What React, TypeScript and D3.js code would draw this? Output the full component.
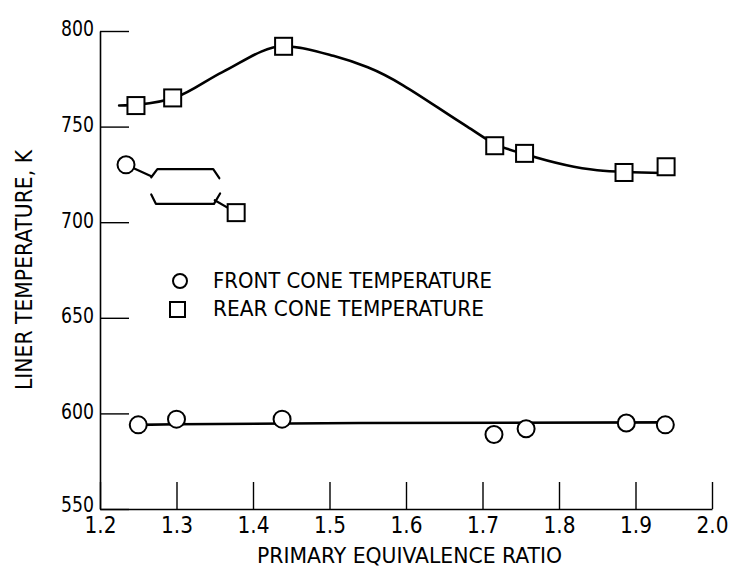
import React, { useEffect, useRef } from 'react';
import * as d3 from 'd3';

// measured points, primary equivalence ratio vs liner temperature (K)
const ratioFront = [1.25, 1.30, 1.438, 1.715, 1.757, 1.888, 1.939];
const tempFront = [594, 597, 597, 589, 592, 595, 594];
const ratioRear = [1.247, 1.295, 1.44, 1.716, 1.755, 1.885, 1.94];
const tempRear = [761, 765, 792, 740, 736, 726, 729];

// the two odd points tied together by the brace
const ratioOddFront = [1.234];
const tempOddFront = [730];
const ratioOddRear = [1.378];
const tempOddRear = [705];

// faired curves as drawn
const fitRearRatio = [1.225, 1.25, 1.30, 1.36, 1.44, 1.505, 1.55, 1.68, 1.716, 1.756, 1.85, 1.935];
const fitRearTemp = [761, 761.5, 765.5, 778.5, 792, 787, 781, 750, 741, 735.5, 727.2, 725.7];
const fitFrontRatio = [1.25, 1.30, 1.54, 1.94];
const fitFrontTemp = [594, 594.3, 595, 595.3];

// brace between the odd points
const braceUpperRatio = [1.267, 1.275, 1.348, 1.356];
const braceUpperTemp = [723.5, 727.8, 727.8, 723];
const braceLowerRatio = [1.267, 1.273, 1.349, 1.357];
const braceLowerTemp = [714.5, 709.6, 709.6, 715];
const tieFrontRatio = [1.234, 1.267];
const tieFrontTemp = [730, 724];
const tieRearRatio = [1.350, 1.378];
const tieRearTemp = [711.5, 705];

const xTicks = [1.2, 1.3, 1.4, 1.5, 1.6, 1.7, 1.8, 1.9, 2.0];
const yTicks = [550, 600, 650, 700, 750, 800];

const FONT = '"DejaVu Sans Condensed", "Liberation Sans Narrow", sans-serif';

const zip = (xs: number[], ys: number[]) => xs.map((v, i) => [v, ys[i]] as [number, number]);

const App = () => {
    const svgRef = useRef<SVGSVGElement>(null);

    useEffect(() => {
        document.body.style.margin = '0';
        const svg = d3.select(svgRef.current);
        svg.selectAll('*').remove();

        const width = 734;
        const height = 569;
        const marginLeft = 100;
        const marginRight = 22;
        const marginTop = 31;
        const marginBottom = 60;

        const x = d3.scaleLinear([1.2, 2.0], [marginLeft, width - marginRight]);
        const y = d3.scaleLinear([550, 800], [height - marginBottom, marginTop]);

        svg.attr('width', width).attr('height', height)
            .attr('viewBox', [0, 0, width, height])
            .style('background', '#fff')
            .style('display', 'block');

        // x axis, ticks pointing up
        svg.append('g')
            .attr('transform', `translate(0,${height - marginBottom})`)
            .call(d3.axisBottom(x).tickValues(xTicks).tickSizeInner(-27).tickSizeOuter(0).tickPadding(8)
                .tickFormat(d => d3.format('.1f')(d as number)))
            .call(g => g.select('.domain').attr('stroke-width', 1.6))
            .call(g => g.selectAll('.tick line').attr('stroke-width', 1.4))
            .call(g => g.selectAll('.tick text')
                .attr('font-family', FONT).attr('font-size', 23)
                .attr('textLength', 32).attr('lengthAdjust', 'spacingAndGlyphs')
                .attr('fill', '#000'));

        // y axis, ticks pointing right
        svg.append('g')
            .attr('transform', `translate(${marginLeft},0)`)
            .call(d3.axisLeft(y).tickValues(yTicks).tickSizeInner(-29).tickSizeOuter(0).tickPadding(6))
            .call(g => g.select('.domain').attr('stroke-width', 1.6))
            .call(g => g.selectAll('.tick line').attr('stroke-width', 1.4))
            .call(g => g.selectAll('.tick text')
                .attr('font-family', FONT).attr('font-size', 22)
                .attr('textLength', 33).attr('lengthAdjust', 'spacingAndGlyphs')
                .attr('dy', d => (d === 550 ? '0.1em' : '0.22em')).attr('fill', '#000'));

        svg.append('text')
            .attr('x', 257).attr('y', 563)
            .attr('font-family', FONT).attr('font-size', 22)
            .attr('textLength', 305).attr('lengthAdjust', 'spacingAndGlyphs')
            .text('PRIMARY EQUIVALENCE RATIO');

        svg.append('text')
            .attr('transform', 'translate(32,390) rotate(-90)')
            .attr('font-family', FONT).attr('font-size', 23)
            .attr('textLength', 240).attr('lengthAdjust', 'spacingAndGlyphs')
            .text('LINER TEMPERATURE, K');

        const line = d3.line<[number, number]>()
            .x(d => x(d[0]))
            .y(d => y(d[1]));

        const curve = d3.line<[number, number]>()
            .x(d => x(d[0]))
            .y(d => y(d[1]))
            .curve(d3.curveMonotoneX);

        const lines = svg.append('g').attr('fill', 'none').attr('stroke', '#000')
            .attr('stroke-linejoin', 'round').attr('stroke-linecap', 'round');
        lines.append('path').attr('stroke-width', 2.6).attr('d', curve(zip(fitRearRatio, fitRearTemp)));
        lines.append('path').attr('stroke-width', 2.6).attr('d', line(zip(fitFrontRatio, fitFrontTemp)));
        [zip(braceUpperRatio, braceUpperTemp), zip(braceLowerRatio, braceLowerTemp),
            zip(tieFrontRatio, tieFrontTemp), zip(tieRearRatio, tieRearTemp)]
            .forEach(pts => lines.append('path').attr('stroke-width', 2.2).attr('d', line(pts)));

        const sq = 17;
        svg.append('g').selectAll('rect')
            .data(zip(ratioRear.concat(ratioOddRear), tempRear.concat(tempOddRear)))
            .join('rect')
            .attr('x', d => x(d[0]) - sq / 2).attr('y', d => y(d[1]) - sq / 2)
            .attr('width', sq).attr('height', sq)
            .attr('fill', '#fff').attr('stroke', '#000').attr('stroke-width', 2);

        svg.append('g').selectAll('circle')
            .data(zip(ratioFront.concat(ratioOddFront), tempFront.concat(tempOddFront)))
            .join('circle')
            .attr('cx', d => x(d[0])).attr('cy', d => y(d[1])).attr('r', 8.5)
            .attr('fill', '#fff').attr('stroke', '#000').attr('stroke-width', 2);

        // legend
        const legend = svg.append('g').attr('font-family', FONT).attr('font-size', 21);
        legend.append('circle').attr('cx', 180).attr('cy', 281).attr('r', 7)
            .attr('fill', '#fff').attr('stroke', '#000').attr('stroke-width', 2);
        legend.append('rect').attr('x', 170).attr('y', 302).attr('width', 15).attr('height', 15)
            .attr('fill', '#fff').attr('stroke', '#000').attr('stroke-width', 2);
        legend.append('text').attr('x', 213).attr('y', 288)
            .attr('textLength', 279).attr('lengthAdjust', 'spacingAndGlyphs')
            .text('FRONT CONE TEMPERATURE');
        legend.append('text').attr('x', 213).attr('y', 316)
            .attr('textLength', 271).attr('lengthAdjust', 'spacingAndGlyphs')
            .text('REAR CONE TEMPERATURE');
    }, []);

    return <svg ref={svgRef} />;
};

export default App;
